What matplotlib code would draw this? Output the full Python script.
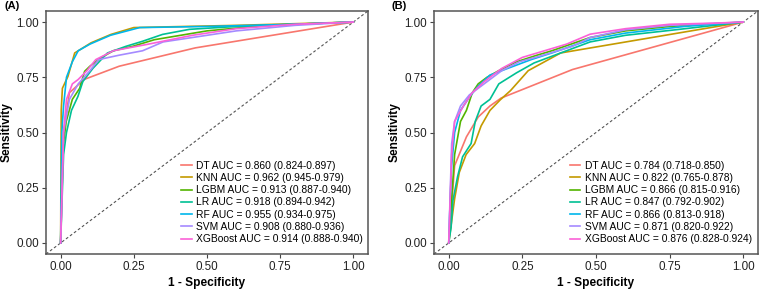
import matplotlib.pyplot as plt

plt.rcParams['font.family'] = ['Liberation Sans', 'DejaVu Sans']

# model names and colours (ggplot hue palette)
models = ['DT', 'KNN', 'LGBM', 'LR', 'RF', 'SVM', 'XGBoost']
colors = ['#F8766D', '#C49A00', '#53B400', '#00C094', '#00B6EB', '#A58AFF', '#FB61D7']

# AUC text for the legends
auc_a = ['0.860 (0.824-0.897)', '0.962 (0.945-0.979)', '0.913 (0.887-0.940)',
         '0.918 (0.894-0.942)', '0.955 (0.934-0.975)', '0.908 (0.880-0.936)',
         '0.914 (0.888-0.940)']
auc_b = ['0.784 (0.718-0.850)', '0.822 (0.765-0.878)', '0.866 (0.815-0.916)',
         '0.847 (0.792-0.902)', '0.866 (0.813-0.918)', '0.871 (0.820-0.922)',
         '0.876 (0.828-0.924)']

# panel A curves (1 - specificity, sensitivity)
fpr_a_dt = [0, 0.01, 0.03, 0.08, 0.2, 0.46, 1]
tpr_a_dt = [0, 0.5, 0.68, 0.74, 0.80, 0.883, 1]
fpr_a_knn = [0, 0.002, 0.006, 0.025, 0.048, 0.104, 0.172, 0.25, 0.32, 0.6, 1]
tpr_a_knn = [0, 0.6, 0.70, 0.754, 0.86, 0.906, 0.944, 0.975, 0.977, 0.985, 1]
fpr_a_lgbm = [0, 0.005, 0.019, 0.04, 0.065, 0.082, 0.1, 0.14, 0.18, 0.246, 0.32, 0.5, 0.7, 1]
tpr_a_lgbm = [0, 0.4, 0.55, 0.65, 0.70, 0.777, 0.80, 0.84, 0.87, 0.89, 0.92, 0.96, 0.985, 1]
fpr_a_lr = [0, 0.01, 0.02, 0.037, 0.059, 0.076, 0.11, 0.16, 0.223, 0.28, 0.348, 0.44, 0.6, 1]
tpr_a_lr = [0, 0.4, 0.5, 0.60, 0.663, 0.731, 0.79, 0.86, 0.89, 0.913, 0.944, 0.967, 0.98, 1]
fpr_a_rf = [0, 0.004, 0.01, 0.02, 0.04, 0.06, 0.1, 0.17, 0.27, 0.5, 0.8, 1]
tpr_a_rf = [0, 0.5, 0.62, 0.75, 0.82, 0.87, 0.90, 0.94, 0.975, 0.98, 0.99, 1]
fpr_a_svm = [0, 0.01, 0.03, 0.06, 0.1, 0.13, 0.2, 0.28, 0.35, 0.5, 0.6, 0.8, 1]
tpr_a_svm = [0, 0.5, 0.65, 0.72, 0.78, 0.83, 0.85, 0.87, 0.91, 0.94, 0.96, 0.985, 1]
fpr_a_xgb = [0, 0.01, 0.02, 0.04, 0.06, 0.09, 0.12, 0.18, 0.3, 0.45, 0.6, 0.8, 1]
tpr_a_xgb = [0, 0.5, 0.65, 0.72, 0.74, 0.78, 0.83, 0.87, 0.90, 0.94, 0.97, 0.99, 1]

# panel B curves
fpr_b_dt = [0, 0.02, 0.06, 0.1, 0.14, 0.178, 0.42, 1]
tpr_b_dt = [0, 0.35, 0.48, 0.57, 0.62, 0.656, 0.785, 1]
fpr_b_knn = [0, 0.02, 0.036, 0.059, 0.088, 0.11, 0.14, 0.175, 0.21, 0.27, 0.38, 1]
tpr_b_knn = [0, 0.2, 0.32, 0.40, 0.45, 0.53, 0.60, 0.648, 0.69, 0.78, 0.86, 1]
fpr_b_lgbm = [0, 0.01, 0.02, 0.04, 0.06, 0.08, 0.1, 0.13, 0.17, 0.23, 0.3, 0.35, 0.48, 0.6, 0.75, 1]
tpr_b_lgbm = [0, 0.2, 0.4, 0.55, 0.6, 0.68, 0.72, 0.75, 0.78, 0.82, 0.85, 0.87, 0.93, 0.96, 0.98, 1]
fpr_b_lr = [0, 0.008, 0.014, 0.03, 0.047, 0.076, 0.09, 0.11, 0.14, 0.17, 0.23, 0.29, 0.34,
            0.48, 0.6, 0.77, 1]
tpr_b_lr = [0, 0.07, 0.19, 0.30, 0.39, 0.45, 0.55, 0.62, 0.65, 0.72, 0.77, 0.815, 0.84,
            0.91, 0.94, 0.965, 1]
fpr_b_rf = [0, 0.005, 0.01, 0.02, 0.04, 0.07, 0.1, 0.14, 0.2, 0.28, 0.35, 0.48, 0.6, 0.8, 1]
tpr_b_rf = [0, 0.2, 0.35, 0.5, 0.6, 0.66, 0.71, 0.76, 0.79, 0.83, 0.86, 0.92, 0.95, 0.98, 1]
fpr_b_svm = [0, 0.01, 0.02, 0.04, 0.07, 0.12, 0.18, 0.24, 0.32, 0.42, 0.48, 0.6, 0.75, 1]
tpr_b_svm = [0, 0.45, 0.55, 0.62, 0.67, 0.72, 0.78, 0.82, 0.85, 0.89, 0.93, 0.965, 0.985, 1]
fpr_b_xgb = [0, 0.01, 0.02, 0.05, 0.08, 0.12, 0.18, 0.25, 0.3, 0.4, 0.48, 0.6, 0.75, 0.9, 1]
tpr_b_xgb = [0, 0.4, 0.55, 0.62, 0.68, 0.73, 0.79, 0.84, 0.86, 0.90, 0.945, 0.97, 0.99, 0.995, 1]

curves_a = [(fpr_a_dt, tpr_a_dt), (fpr_a_knn, tpr_a_knn), (fpr_a_lgbm, tpr_a_lgbm),
            (fpr_a_lr, tpr_a_lr), (fpr_a_rf, tpr_a_rf), (fpr_a_svm, tpr_a_svm),
            (fpr_a_xgb, tpr_a_xgb)]
curves_b = [(fpr_b_dt, tpr_b_dt), (fpr_b_knn, tpr_b_knn), (fpr_b_lgbm, tpr_b_lgbm),
            (fpr_b_lr, tpr_b_lr), (fpr_b_rf, tpr_b_rf), (fpr_b_svm, tpr_b_svm),
            (fpr_b_xgb, tpr_b_xgb)]

ticks = [0, 0.25, 0.5, 0.75, 1.0]
tick_labels = ['0.00', '0.25', '0.50', '0.75', '1.00']

fig = plt.figure(figsize=(7.6, 2.91), dpi=100)
ax_a = fig.add_axes([46 / 760, 1 - 254 / 291, 322 / 760, 243 / 291])
ax_b = fig.add_axes([434 / 760, 1 - 254 / 291, 324 / 760, 243 / 291])


def draw_panel(ax, curves, aucs, tag):
    ax.axline((0, 0), (1, 1), color='#555555', lw=0.8, ls=(0, (2.5, 2)), zorder=1)
    for (fpr, tpr), name, col, auc in zip(curves, models, colors, aucs):
        ax.plot(fpr, tpr, color=col, lw=1.2, label=f'{name} AUC = {auc}', zorder=2)
    ax.set_xlim(-0.05, 1.05)
    ax.set_ylim(-0.05, 1.05)
    ax.set_xticks(ticks, tick_labels)
    ax.set_yticks(ticks, tick_labels)
    ax.tick_params(length=3, width=0.8, color='#444444', labelsize=8.4,
                   labelcolor='#222222', pad=2)
    for sp in ax.spines.values():
        sp.set_color('#555555')
        sp.set_linewidth(1.1)
    ax.set_xlabel('1 - Specificity', fontsize=8.6, fontweight='bold', labelpad=3)
    ax.set_ylabel('Sensitivity', fontsize=8.6, fontweight='bold', labelpad=3)
    ax.legend(loc='lower left', bbox_to_anchor=(0.42, 0.04), frameon=False,
              fontsize=7.4, handlelength=1.0, handletextpad=0.45,
              labelspacing=0.22, borderpad=0, borderaxespad=0)
    ax.text(-0.13, 1.0, tag, transform=ax.transAxes, fontsize=8, fontweight='bold',
            va='bottom', ha='left')


draw_panel(ax_a, curves_a, auc_a, '(A)')
draw_panel(ax_b, curves_b, auc_b, '(B)')

fig.savefig('out.png', dpi=100)
